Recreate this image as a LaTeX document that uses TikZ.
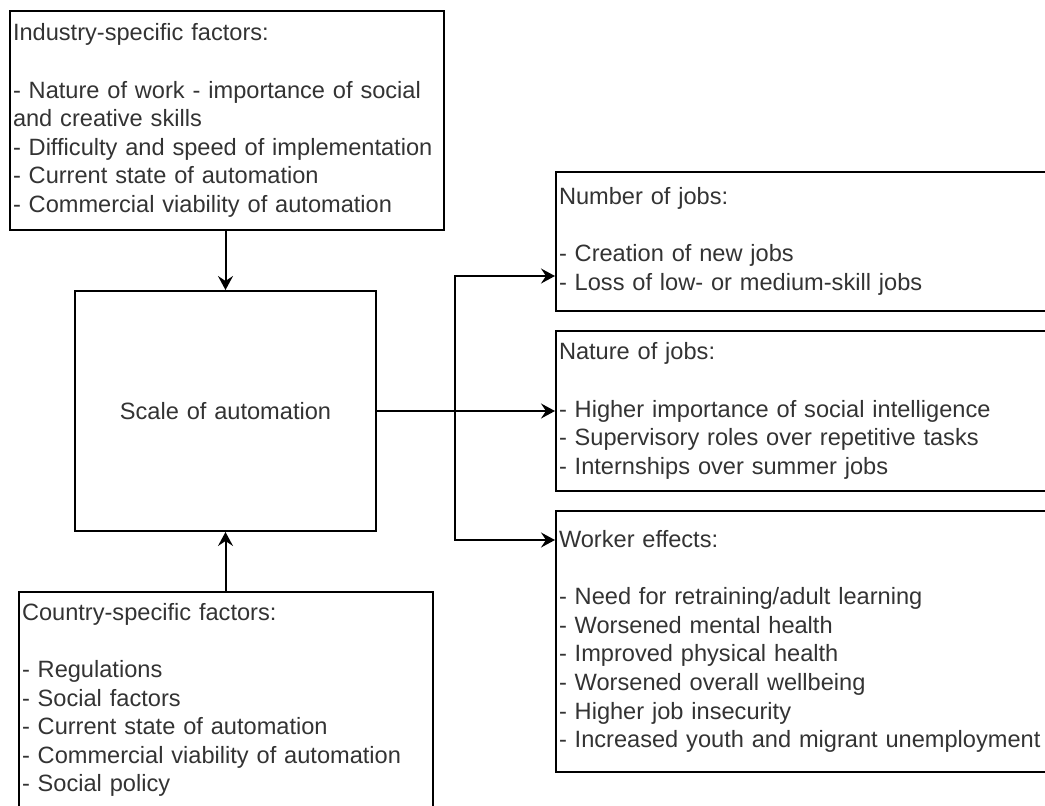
\documentclass[tikz,border=0pt]{standalone}
\usepackage{fontspec}
\setmainfont{Liberation Sans}
\usetikzlibrary{arrows.meta,positioning}
\definecolor{textgray}{RGB}{51,51,51}
\newcommand\boxfont{\fontsize{11.8}{14.3}\selectfont\hyphenpenalty=10000\relax\exhyphenpenalty=10000\relax}

\tikzset{
  infobox/.style={draw, line width=1pt, rectangle, anchor=north west, align=left,
    inner xsep=1.5pt, inner ysep=0pt, text=textgray, font=\boxfont},
  flow/.style={-{Stealth[length=7pt,width=7.5pt,inset=2.5pt]}, line width=1pt}
}

\begin{document}
\begin{tikzpicture}[x=0.5pt, y=-0.5pt]
    \useasboundingbox (0,0) rectangle (1045,805);
    \clip (0,0) rectangle (1045,805);

    \node[infobox, text width=214pt, minimum height=109.5pt] (industry) at (9,10)
        {Industry-specific factors:\\ \mbox{}\\
         - Nature of work - importance of social\\
         and creative skills\\
         - Difficulty and speed of implementation\\
         - Current state of automation\\
         - Commercial viability of automation};

    \node[infobox, align=center, text width=147.5pt, minimum height=120pt] (scale) at (74,290)
        {Scale of automation};

    \node[infobox, text width=204pt, minimum height=108pt] (country) at (18,591)
        {Country-specific factors:\\ \mbox{}\\
         - Regulations\\
         - Social factors\\
         - Current state of automation\\
         - Commercial viability of automation\\
         - Social policy};

    \node[infobox, text width=255pt, minimum height=69.5pt] (number) at (555,171)
        {Number of jobs:\\ \mbox{}\\
         - Creation of new jobs\\
         - Loss of low- or medium-skill jobs};

    \node[infobox, text width=255pt, minimum height=80pt] (nature) at (555,330)
        {Nature of jobs:\\ \mbox{}\\
         - Higher importance of social intelligence\\
         - Supervisory roles over repetitive tasks\\
         - Internships over summer jobs};

    \node[infobox, text width=255pt, minimum height=130.5pt] (worker) at (555,510)
        {Worker effects:\\ \mbox{}\\
         - Need for retraining/adult learning\\
         - Worsened mental health\\
         - Improved physical health\\
         - Worsened overall wellbeing\\
         - Higher job insecurity\\
         - Increased youth and migrant unemployment};

    \draw[flow] (scale.north |- industry.south) -- (scale.north);
    \draw[flow] (scale.south |- country.north) -- (scale.south);

    \coordinate (split) at (455,410);
    \draw[flow] (scale.east) -- (nature.west);
    \draw[flow] (split) |- (number.west |- 0,276);
    \draw[flow] (split) |- (worker.west |- 0,540);
\end{tikzpicture}
\end{document}
